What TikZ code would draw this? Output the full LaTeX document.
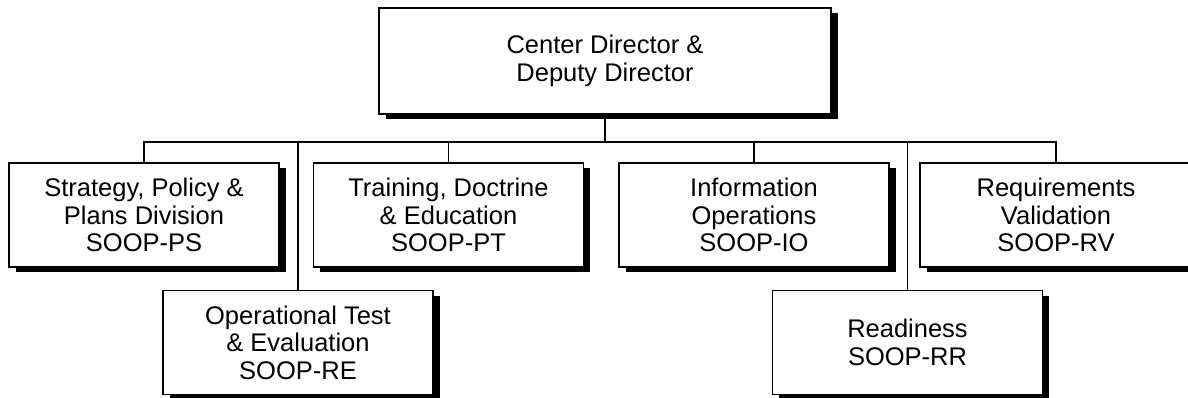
\documentclass[tikz,border=0pt]{standalone}
\usepackage{fontspec}
\setmainfont{Liberation Sans}
\usetikzlibrary{shadows}
\begin{document}
\begin{tikzpicture}[x=1pt,y=-1pt,
  unitbox/.style={draw=black, line width=1.2pt, fill=white, inner sep=0pt,
    minimum width=270pt, minimum height=104pt, align=center,
    font=\fontsize{25.5}{27.5}\selectfont,
    drop shadow={shadow xshift=6.5pt, shadow yshift=-5pt, fill=black, opacity=1}},
  link/.style={draw=black, line width=1.2pt}]
\useasboundingbox (0,0) rectangle (1188,397);
\node[unitbox, minimum width=452pt, minimum height=106pt] (top) at (605,61) {Center Director \&\\Deputy Director};
\node[unitbox] (sp) at (144,215) {Strategy, Policy \&\\Plans Division\\SOOP-PS};
\node[unitbox] (tde) at (448.5,215) {Training, Doctrine\\\& Education\\SOOP-PT};
\node[unitbox] (io) at (754,215) {Information\\Operations\\SOOP-IO};
\node[unitbox, minimum width=272pt] (rv) at (1056,215) {Requirements\\Validation\\SOOP-RV};
\node[unitbox] (ote) at (298,342.5) {Operational Test\\\& Evaluation\\SOOP-RE};
\node[unitbox] (rr) at (907.5,342.5) {Readiness\\SOOP-RR};
\coordinate (bus) at (604,142);
\draw[link] (sp.north) |- (bus) -| (rv.north);
\draw[link] (top.south) -- (top.south |- bus);
\draw[link] (tde.north) -- (tde.north |- bus);
\draw[link] (io.north) -- (io.north |- bus);
\draw[link] (ote.north) -- (ote.north |- bus);
\draw[link] (rr.north) -- (rr.north |- bus);
\end{tikzpicture}
\end{document}
